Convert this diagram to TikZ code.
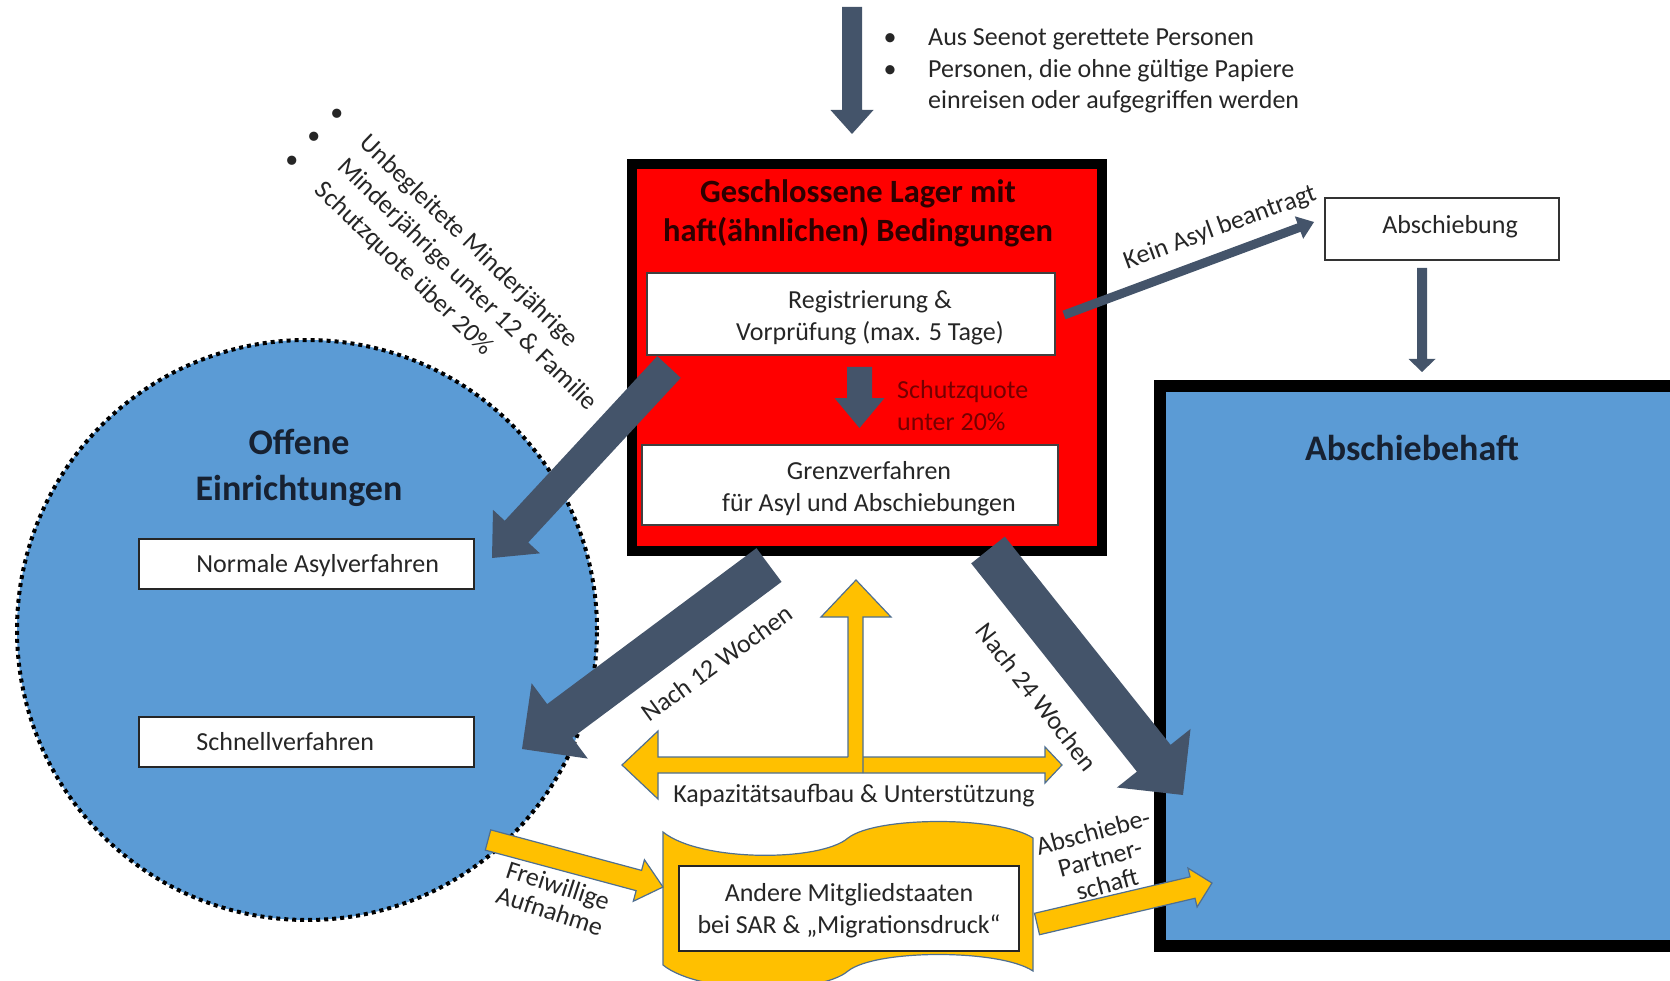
\documentclass[tikz,border=0pt]{standalone}
\usepackage{fontspec}
\setmainfont{Carlito}
\usetikzlibrary{calc}
\definecolor{darr}{HTML}{44546A}
\definecolor{oblue}{HTML}{5B9BD5}
\definecolor{oyel}{HTML}{FFC000}
\definecolor{yline}{HTML}{4F6F91}
\definecolor{txtc}{HTML}{262626}
\definecolor{titred}{HTML}{2E0000}
\definecolor{qred}{HTML}{740000}
\definecolor{navy}{HTML}{172131}
% #1 style, #2 start coordinate, #3 tip coordinate, #4 half shaft, #5 half head, #6 head length
\newcommand{\blockarrow}[6]{%
  \coordinate (#2#3h) at ($(#3)!#6!(#2)$);
  \path[#1] ($(#2)!#4!90:(#3)$) -- ($(#2#3h)!#4!90:(#3)$) -- ($(#2#3h)!#5!90:(#3)$) -- (#3)
    -- ($(#2#3h)!#5!-90:(#3)$) -- ($(#2#3h)!#4!-90:(#3)$) -- ($(#2)!#4!-90:(#3)$) -- cycle;
}
\tikzset{
  body/.style={text=txtc, font=\fontsize{26}{32}\selectfont, inner sep=0pt},
  tight/.style={text=txtc, font=\fontsize{26}{27}\selectfont, inner sep=0pt, align=center},
  wbox/.style={draw=black!85, fill=white, line width=1.5pt, inner sep=0pt},
  darrow/.style={fill=darr},
  yarrow/.style={fill=oyel, draw=yline, line width=1.2pt, line join=miter},
  bigtitle/.style={text=navy, font=\fontsize{36}{46}\selectfont\bfseries, inner sep=0pt, align=center},
}
\begin{document}
\begin{tikzpicture}[x=1pt,y=-1pt]
\useasboundingbox (0,0) rectangle (1670,981);

% ---------- open facilities circle
\node[circle, fill=oblue, draw=black, line width=4pt, dash pattern=on 4pt off 4pt,
      minimum size=580pt, inner sep=0pt] (offen) at (307,630) {};
\node[bigtitle] (offtitle) at (299,468) {Offene\\Einrichtungen};
\node[wbox, minimum width=335pt, minimum height=50pt] (normal) at (306.5,564) {};
\node[body, anchor=west] (normaltxt) at ([xshift=58pt,yshift=-2pt]normal.west) {Normale Asylverfahren};
\node[wbox, minimum width=335pt, minimum height=50pt] (schnell) at (306.5,742) {};
\node[body, anchor=west] (schnelltxt) at ([xshift=58pt]schnell.west) {Schnellverfahren};

% ---------- closed camp
\node[draw=black, line width=10pt, fill=red, minimum width=470pt, minimum height=387pt, inner sep=0pt] (lager) at (867,357.5) {};
\node[text=titred, font=\fontsize{32.5}{39}\selectfont\bfseries, align=center, inner sep=0pt] (lagertitle) at (858,213)
  {Geschlossene Lager mit\\haft(ähnlichen) Bedingungen};
\node[wbox, draw=black!75, minimum width=408pt, minimum height=82pt] (reg) at (851,314) {};
\node[body, align=center] (regtxt) at ([xshift=19pt,yshift=-4pt]reg.center) {Registrierung \&\\Vorprüfung (max. 5 Tage)};
\node[wbox, draw=black!75, minimum width=416pt, minimum height=80pt] (grenz) at (850,485) {};
\node[body, align=center] (grenztxt) at ([xshift=19pt,yshift=-4pt]grenz.center) {Grenzverfahren\\für Asyl und Abschiebungen};
\coordinate (qs) at (859.5,367);
\coordinate (qt) at (859.5,428);
\blockarrow{darrow}{qs}{qt}{12.5pt}{25pt}{30pt}
\node[body, text=qred, align=left, anchor=west] (quote) at (897,406) {Schutzquote\\unter 20\%};

% ---------- top arrow and bullets
\coordinate (ts) at (852,7);
\coordinate (tt) at (852,134);
\blockarrow{darrow}{ts}{tt}{10pt}{21.5pt}{24pt}
\node[body, anchor=base] (tb1) at (890,46) {\textbullet};
\node[body, anchor=base west] (tl1) at (928,46) {Aus Seenot gerettete Personen};
\node[body, anchor=base] (tb2) at (890,78) {\textbullet};
\node[body, anchor=base west] (tl2) at (928,78) {Personen, die ohne gültige Papiere};
\node[body, anchor=base west] (tl3) at (928,109) {einreisen oder aufgegriffen werden};

% ---------- deportation
\node[wbox, draw=black!80, minimum width=234pt, minimum height=62pt] (absch) at (1442,229) {};
\node[body] (abschtxt) at (1450,227) {Abschiebung};
\node[draw=black, line width=12pt, fill=oblue, minimum width=560pt, minimum height=560pt,
      anchor=north west, inner sep=0pt, outer sep=0pt] (haft) at (1160,386) {};
\node[bigtitle] (hafttitle) at (1412,448) {Abschiebehaft};

\coordinate (ks) at (1064,315);
\coordinate (kt) at (1314,222);
\blockarrow{darrow}{ks}{kt}{4.5pt}{12pt}{16pt}
\node[body, rotate=20] (kein) at (1220,228) {Kein Asyl beantragt};
\coordinate (vs) at (1422,268);
\coordinate (vt) at (1422,372);
\blockarrow{darrow}{vs}{vt}{5pt}{13.5pt}{13pt}

% ---------- big dark arrows
\coordinate (ns) at (669,367);
\coordinate (nt) at (492,558);
\blockarrow{darrow}{ns}{nt}{16pt}{32pt}{36pt}
\coordinate (n12s) at (769,565);
\coordinate (n12t) at (522,749);
\blockarrow{darrow}{n12s}{n12t}{21pt}{47pt}{47pt}
\node[body, rotate=36] (n12) at (717,663) {Nach 12 Wochen};
\coordinate (n24s) at (988,550);
\coordinate (n24t) at (1183,795);
\blockarrow{darrow}{n24s}{n24t}{21.5pt}{47pt}{47pt}
\node[body, rotate=-52] (n24) at (1037,697) {Nach 24 Wochen};

% ---------- yellow capacity arrows
\filldraw[yarrow] (622,765) -- (658,731) -- (658,757) -- (1045,757) -- (1045,747) -- (1062,765)
  -- (1045,783) -- (1045,773) -- (658,773) -- (658,799) -- cycle;
\fill[oyel] (848,771) -- (848,617) -- (821,617) -- (856,580) -- (891,617) -- (863,617) -- (863,771) -- cycle;
\draw[yline, line width=1.2pt, line join=miter] (848,757) -- (848,617) -- (821,617) -- (856,580) -- (891,617) -- (863,617) -- (863,773);
\node[body] (kap) at (854,796) {Kapazitätsaufbau \& Unterstützung};

% ---------- scroll with other member states
\filldraw[yarrow] (663,832) .. controls (700,862) and (820,862) .. (848,838)
  .. controls (876,816) and (1000,816) .. (1033,838) -- (1033,971)
  .. controls (1000,949) and (876,949) .. (848,971)
  .. controls (820,995) and (700,995) .. (663,965) -- cycle;
\node[wbox, line width=2pt, minimum width=340pt, minimum height=85pt] (andere) at (849,908) {};
\node[body, align=center] (anderetxt) at ([yshift=-3pt]andere.center) {Andere Mitgliedstaaten\\bei SAR \& „Migrationsdruck“};

\coordinate (fs) at (488,840);
\coordinate (ft) at (663,887);
\blockarrow{yarrow}{fs}{ft}{10.5pt}{21.5pt}{25pt}
\node[tight, rotate=-18] (frei) at (554,898) {Freiwillige\\Aufnahme};
\coordinate (ps) at (1037,924);
\coordinate (pt) at (1212,883);
\blockarrow{yarrow}{ps}{pt}{11pt}{20pt}{20pt}
\node[tight, rotate=15] (partner) at (1100,858) {Abschiebe-\\Partner-\\schaft};

% ---------- rotated criteria list
\begin{scope}[shift={(338,113)}, rotate=-44, transform shape]
  \node[body, anchor=base] (rb1) at (0,8.5) {\textbullet};
  \node[body, anchor=base west] (rl1) at (37,8.5) {Unbegleitete Minderjährige};
  \node[body, anchor=base] (rb2) at (0,41) {\textbullet};
  \node[body, anchor=base west] (rl2) at (37,41) {Minderjährige unter 12 \& Familie};
  \node[body, anchor=base] (rb3) at (0,73.5) {\textbullet};
  \node[body, anchor=base west] (rl3) at (37,73.5) {Schutzquote über 20\%};
\end{scope}
\end{tikzpicture}
\end{document}
